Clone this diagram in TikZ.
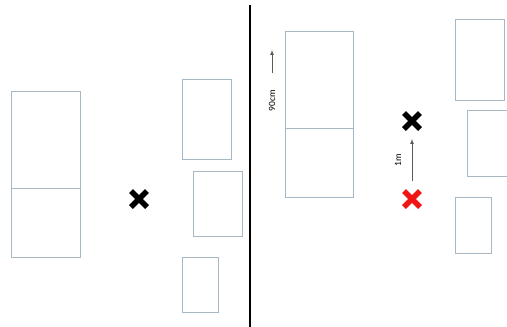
\documentclass[tikz,border=0pt]{standalone}
\usepackage{fontspec}
\setmainfont{Carlito}
\usepackage{xcolor}
\usepackage{tikz}
\usetikzlibrary{arrows, positioning, calc}

\definecolor{shelfgray}{RGB}{165,184,196}
\definecolor{markred}{RGB}{240,20,20}

\begin{document}
\begin{tikzpicture}[x=1pt,y=-1pt,
  shelf/.style={shelfgray,line width=0.9pt},
  cross/.style={line width=5.5pt},
  measure/.style={gray!70!black,line width=0.7pt,-latex},
  lbl/.style={font=\fontsize{9.5}{11}\selectfont,rotate=90,inner sep=1pt}]
  \useasboundingbox (0,0) rectangle (507,327);

  % Divider between the two scenes
  \draw[line width=1.6pt] (250,5) -- (250,327);

  % Left scene: tall shelf with split
  \draw[shelf] (11,91) rectangle (80,257);
  \draw[shelf] (11,188) -- (80,188);

  % Left scene: small boxes
  \draw[shelf] (182,79) rectangle (231,159);
  \draw[shelf] (193,171) rectangle (242,236);
  \draw[shelf] (182,257) rectangle (218,312);

  % Left scene: position mark
  \coordinate (X) at (139,199);
  \draw[cross] ($(X)+(-8,-8)$) -- ($(X)+(8,8)$);
  \draw[cross] ($(X)+(-8,8)$) -- ($(X)+(8,-8)$);

  % Right scene: tall shelf with split
  \draw[shelf] (285,31) rectangle (353,197);
  \draw[shelf] (285,128) -- (353,128);

  % Height label
  \coordinate (h0) at (272,73);
  \coordinate (h1) at (272,50);
  \draw[measure] (h0) -- (h1);
  \node[lbl] (height) at (272,101) {90cm};

  % Right scene: small boxes
  \draw[shelf] (455,19) rectangle (504,100);
  \draw[shelf] (467,110) rectangle (510,176);
  \draw[shelf] (455,197) rectangle (491,253);

  % Right scene: old and new position
  \coordinate (Xn) at (412,121);
  \coordinate (Xo) at (412,199);
  \draw[cross] ($(Xn)+(-8,-8)$) -- ($(Xn)+(8,8)$);
  \draw[cross] ($(Xn)+(-8,8)$) -- ($(Xn)+(8,-8)$);
  \draw[cross,markred] ($(Xo)+(-8,-8)$) -- ($(Xo)+(8,8)$);
  \draw[cross,markred] ($(Xo)+(-8,8)$) -- ($(Xo)+(8,-8)$);

  % Shift label
  \coordinate (s0) at (412,181);
  \coordinate (s1) at (412,139);
  \draw[measure] (s0) -- (s1);
  \node[lbl] (shift) at (398,160) {1m};
\end{tikzpicture}
\end{document}
